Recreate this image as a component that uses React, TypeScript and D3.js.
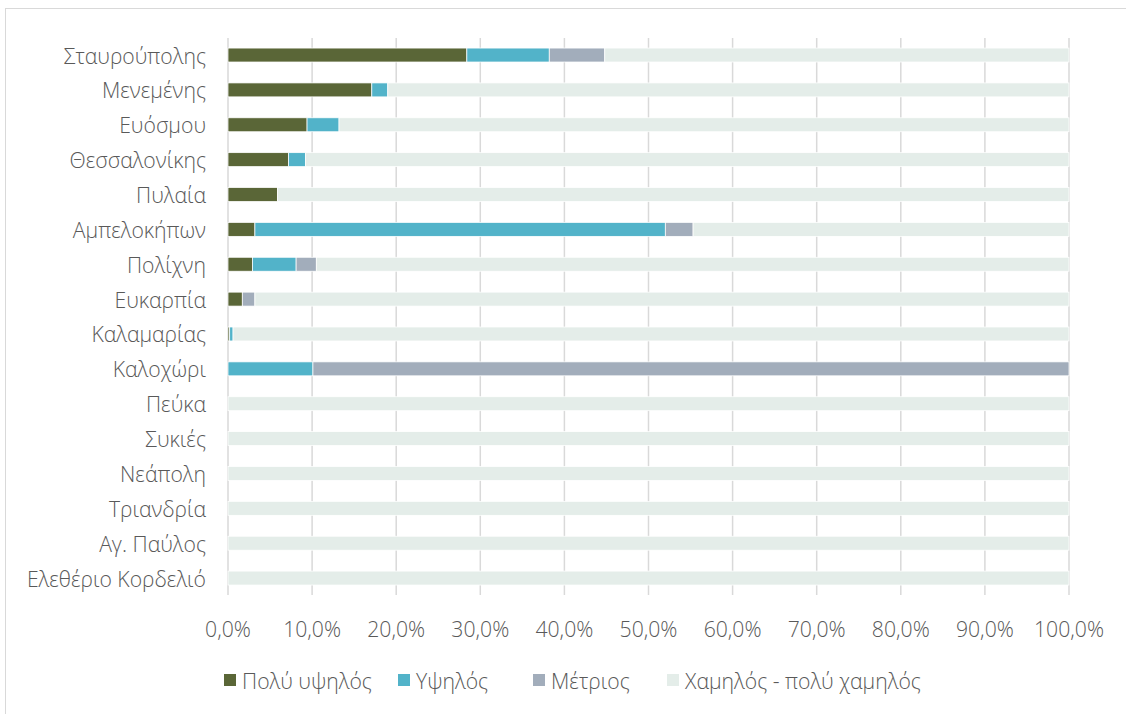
import React from "react";
import * as d3 from "d3";

const categories = [
  "Σταυρούπολης",
  "Μενεμένης",
  "Ευόσμου",
  "Θεσσαλονίκης",
  "Πυλαία",
  "Αμπελοκήπων",
  "Πολίχνη",
  "Ευκαρπία",
  "Καλαμαρίας",
  "Καλοχώρι",
  "Πεύκα",
  "Συκιές",
  "Νεάπολη",
  "Τριανδρία",
  "Αγ. Παύλος",
  "Ελεθέριο Κορδελιό",
];

const seriesNames = ["Πολύ υψηλός", "Υψηλός", "Μέτριος", "Χαμηλός - πολύ χαμηλός"];

const veryHigh = [28.4, 17.1, 9.4, 7.2, 5.9, 3.2, 2.9, 1.7, 0.2, 0, 0, 0, 0, 0, 0, 0];
const high = [9.8, 1.9, 3.8, 2.0, 0, 48.8, 5.2, 0, 0.4, 10.1, 0, 0, 0, 0, 0, 0];
const medium = [6.6, 0, 0, 0, 0, 3.3, 2.4, 1.5, 0, 89.9, 0, 0, 0, 0, 0, 0];
const low = [55.2, 81.0, 86.8, 90.8, 94.1, 44.7, 89.5, 96.8, 99.4, 0, 100, 100, 100, 100, 100, 100];

const xTicks = [0, 10, 20, 30, 40, 50, 60, 70, 80, 90, 100];

const colors = ["#5a6637", "#52b3c9", "#a2adbb", "#e4ede9"];

export default function App() {
  const W = 1126;
  const H = 714;
  const x = d3.scaleLinear().domain([0, 100]).range([228, 1069]);
  const y = d3
    .scaleBand<string>()
    .domain(categories)
    .range([37.6, 595.5])
    .paddingInner(0.6)
    .paddingOuter(0.3);

  const rows = categories.map((c, i) => ({
    cat: c,
    values: [veryHigh[i], high[i], medium[i], low[i]],
  }));

  const stack = d3
    .stack<any>()
    .keys(["0", "1", "2", "3"])
    .value((d: any, k: string) => d.values[+k]);
  const stacked = stack(rows);

  const font = "'Open Sans', 'Noto Sans', sans-serif";
  const textColor = "#595959";
  const fs = 21.2;
  const fmt = (v: number) => d3.format(".1f")(v).replace(".", ",") + "%";

  const legendX = [224, 398, 533, 667];

  return (
    <svg
      width={W}
      height={H}
      style={{ position: "absolute", left: 0, top: 0, background: "#fff" }}
      fontFamily={font}
      fontWeight={300}
    >
      <rect x={5.5} y={8.5} width={1140} height={720} fill="#fff" stroke="#d9d9d9" strokeWidth={1} />
      {xTicks.map((t) => (
        <line
          key={"g" + t}
          x1={x(t)}
          x2={x(t)}
          y1={38}
          y2={595}
          stroke="#d9d9d9"
          strokeWidth={1.5}
        />
      ))}
      {stacked.map((layer, si) => (
        <g key={"s" + si} fill={colors[si]}>
          {layer.map((d: any, i: number) => {
            const w = x(d[1]) - x(d[0]);
            if (w <= 0) return null;
            return (
              <rect
                key={i}
                x={x(d[0])}
                y={y(categories[i])}
                width={w}
                height={y.bandwidth()}
                stroke="#ffffff"
                strokeWidth={0.75}
              />
            );
          })}
        </g>
      ))}
      {categories.map((c) => (
        <text
          key={"c" + c}
          x={206}
          y={(y(c) as number) + y.bandwidth() / 2}
          textAnchor="end"
          dominantBaseline="central"
          fontSize={fs}
          fill={textColor}
        >
          {c}
        </text>
      ))}
      {xTicks.map((t) => (
        <text
          key={"t" + t}
          x={x(t)}
          y={628}
          textAnchor="middle"
          dominantBaseline="central"
          fontSize={fs}
          fill={textColor}
        >
          {fmt(t)}
        </text>
      ))}
      {seriesNames.map((s, i) => (
        <g key={"l" + i}>
          <rect x={legendX[i]} y={674} width={12} height={12} fill={colors[i]} />
          <text
            x={legendX[i] + 18}
            y={680}
            dominantBaseline="central"
            fontSize={fs}
            fill={textColor}
          >
            {s}
          </text>
        </g>
      ))}
    </svg>
  );
}
